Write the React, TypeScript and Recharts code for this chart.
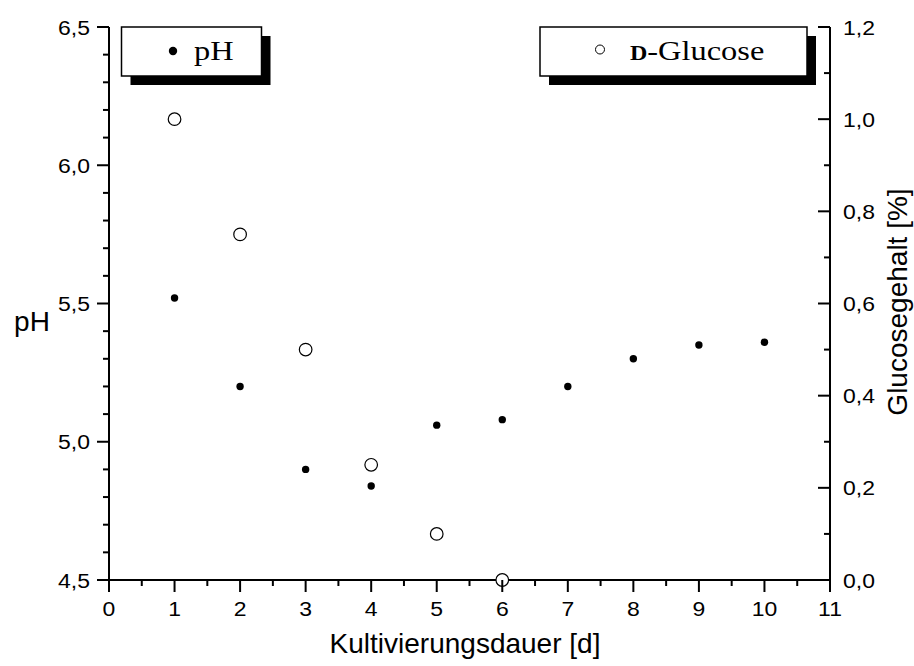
import { Scatter, ScatterChart, XAxis, YAxis } from "recharts";

const days = [1, 2, 3, 4, 5, 6, 7, 8, 9, 10];
const phValues = [5.52, 5.2, 4.9, 4.84, 5.06, 5.08, 5.2, 5.3, 5.35, 5.36];
const glucoseDays = [1, 2, 3, 4, 5, 6];
const glucoseValues = [1.0, 0.75, 0.5, 0.25, 0.1, 0.0];

const xTicks = [0, 0.5, 1, 1.5, 2, 2.5, 3, 3.5, 4, 4.5, 5, 5.5, 6, 6.5, 7, 7.5, 8, 8.5, 9, 9.5, 10, 10.5, 11];
const phTicks = [4.5, 4.6, 4.7, 4.8, 4.9, 5.0, 5.1, 5.2, 5.3, 5.4, 5.5, 5.6, 5.7, 5.8, 5.9, 6.0, 6.1, 6.2, 6.3, 6.4, 6.5];
const glucoseTicks = [0, 0.1, 0.2, 0.3, 0.4, 0.5, 0.6, 0.7, 0.8, 0.9, 1.0, 1.1, 1.2];

const phData = days.map((d, i) => ({ day: d, value: phValues[i] }));
const glucoseData = glucoseDays.map((d, i) => ({ day: d, value: glucoseValues[i] }));

const SANS = "'Liberation Sans', Arial, sans-serif";
const SERIF = "'Liberation Serif', 'Times New Roman', serif";
const TICK_FONT = 20.5;
const TICK_SX = 1.12;

const isStep = (v: number, step: number) => Math.abs(v / step - Math.round(v / step)) < 1e-6;
const comma = (v: number) => v.toFixed(1).replace(".", ",");

// tick labels in the original are drawn a bit wider than Arial, hence the x-scale
const Label = ({ x, y, anchor, children }: any) => (
  <text
    transform={`translate(${x},${y}) scale(${TICK_SX},1)`}
    textAnchor={anchor}
    fontSize={TICK_FONT}
    fontFamily={SANS}
    fill="#000"
  >
    {children}
  </text>
);

const XTick = (props: any) => {
  const { x, y, payload } = props;
  const v = payload.value;
  const major = isStep(v, 1);
  return (
    <g>
      <line x1={x} x2={x} y1={y} y2={y + (major ? 12 : 6)} stroke="#000" strokeWidth={2} />
      {major && <Label x={x} y={y + 36} anchor="middle">{v}</Label>}
    </g>
  );
};

const PhTick = (props: any) => {
  const { x, y, payload } = props;
  const v = payload.value;
  const major = isStep(v, 0.5);
  return (
    <g>
      <line x1={x - (major ? 12 : 6)} x2={x} y1={y} y2={y} stroke="#000" strokeWidth={2} />
      {major && <Label x={x - 19} y={y + 7.5} anchor="end">{comma(v)}</Label>}
    </g>
  );
};

const GlucoseTick = (props: any) => {
  const { x, y, payload } = props;
  const v = payload.value;
  const major = isStep(v, 0.2);
  return (
    <g>
      <line x1={x - (major ? 12 : 6)} x2={x} y1={y} y2={y} stroke="#000" strokeWidth={2} />
      {major && <Label x={x + 13} y={y + 7.5} anchor="start">{comma(v)}</Label>}
    </g>
  );
};

const Dot = (p: any) => <circle cx={p.cx} cy={p.cy} r={3.7} fill="#000" />;
const Ring = (p: any) => <circle cx={p.cx} cy={p.cy} r={6.3} fill="#fff" stroke="#000" strokeWidth={1.2} />;

const Overlay = () => (
  <svg width={914} height={666} style={{ position: "absolute", left: 0, top: 0, pointerEvents: "none" }}>
    {/* legend pH */}
    <rect x={130.5} y={36} width={140} height={49} fill="#000" />
    <rect x={121.5} y={27} width={140} height={49} fill="#fff" stroke="#000" strokeWidth={1.5} />
    <circle cx={173} cy={51} r={4.2} fill="#000" />
    <text transform="translate(194,60) scale(1.2,1)" fontSize={27} fontFamily={SERIF} fill="#000">pH</text>
    {/* legend glucose */}
    <rect x={549} y={36} width={267} height={49} fill="#000" />
    <rect x={540} y={27} width={267} height={49} fill="#fff" stroke="#000" strokeWidth={1.5} />
    <circle cx={600} cy={49.5} r={4.5} fill="#fff" stroke="#000" strokeWidth={1} />
    <text transform="translate(630,60) scale(1.2,1)" fontSize={27} fontFamily={SERIF} fill="#000">
      <tspan fontSize={20} fontWeight="bold">D</tspan>
      <tspan>-Glucose</tspan>
    </text>
    {/* axis titles */}
    <text x={32} y={331} textAnchor="middle" fontSize={28} fontFamily={SANS} fill="#000">pH</text>
    <text x={465} y={653} textAnchor="middle" fontSize={28} fontFamily={SANS} fill="#000">
      Kultivierungsdauer [d]
    </text>
    <text
      transform="translate(907,302) rotate(-90)"
      textAnchor="middle"
      fontSize={28}
      fontFamily={SANS}
      fill="#000"
    >
      Glucosegehalt [%]
    </text>
  </svg>
);

export default function App() {
  return (
    <div style={{ position: "absolute", left: 0, top: 0, width: 914, height: 666, background: "#fff" }}>
      <ScatterChart width={914} height={666} margin={{ top: 27, right: 14, bottom: 26, left: 49 }}>
        <XAxis
          type="number"
          dataKey="day"
          domain={[0, 11]}
          ticks={xTicks}
          interval={0}
          height={60}
          tickSize={0}
          tickMargin={0}
          tickLine={false}
          axisLine={{ stroke: "#000", strokeWidth: 2 }}
          tick={XTick}
        />
        <YAxis
          yAxisId="ph"
          type="number"
          dataKey="value"
          domain={[4.5, 6.5]}
          ticks={phTicks}
          interval={0}
          width={60}
          tickSize={0}
          tickMargin={0}
          tickLine={false}
          axisLine={{ stroke: "#000", strokeWidth: 2 }}
          tick={PhTick}
        />
        <YAxis
          yAxisId="glu"
          orientation="right"
          type="number"
          dataKey="value"
          domain={[0, 1.2]}
          ticks={glucoseTicks}
          interval={0}
          width={70}
          tickSize={0}
          tickMargin={0}
          tickLine={false}
          axisLine={{ stroke: "#000", strokeWidth: 2 }}
          tick={GlucoseTick}
        />
        <Scatter yAxisId="ph" data={phData} shape={Dot} isAnimationActive={false} />
        <Scatter yAxisId="glu" data={glucoseData} shape={Ring} isAnimationActive={false} />
      </ScatterChart>
      <Overlay />
    </div>
  );
}
